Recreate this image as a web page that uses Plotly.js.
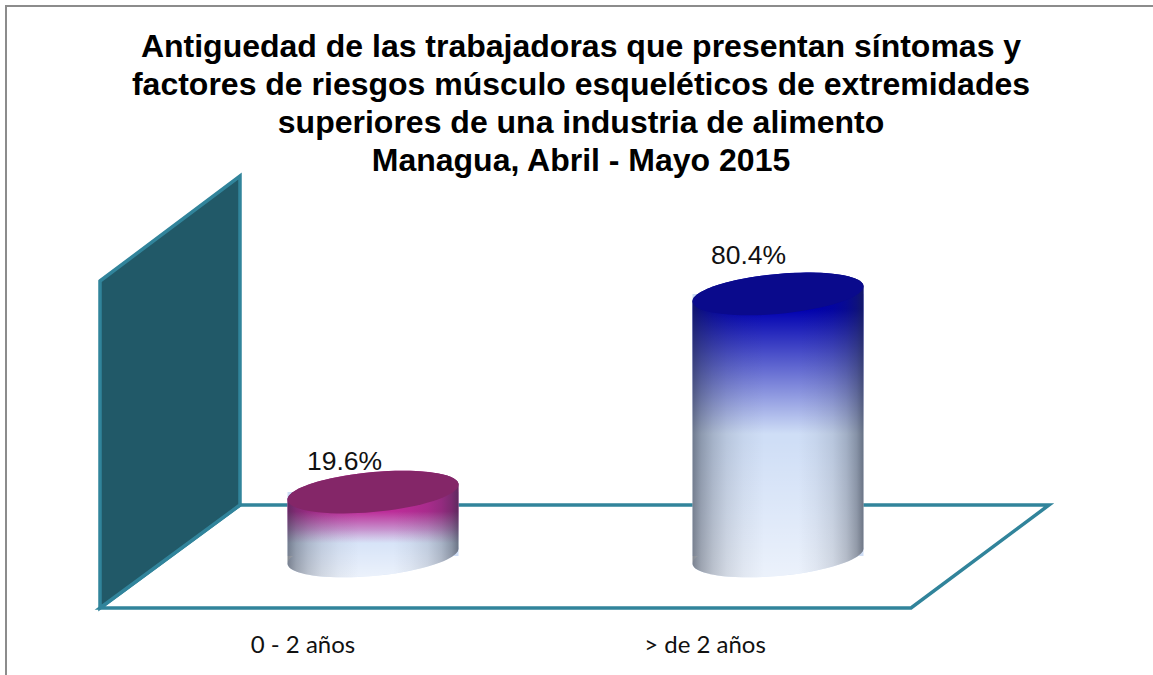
<!DOCTYPE html>
<html><head><meta charset="utf-8">
<script src="https://cdn.plot.ly/plotly-3.0.1.min.js"></script>
<style>html,body{margin:0;padding:0;background:#fff;overflow:hidden}#g{width:1153px;height:675px}</style>
</head><body><div id="g"></div>
<script>
const categories = ['0 - 2 años', '> de 2 años'];
const values = [19.6, 80.4];
const labels = ['19.6%', '80.4%'];
const topColors = ['#842668', '#0A0A8C'];
const shadeColors = ['#BC2C98', '#0000B0'];
const titleLines = [
  'Antiguedad de las trabajadoras que presentan síntomas y',
  'factores de riesgos músculo esqueléticos de extremidades',
  'superiores de una industria de alimento',
  'Managua, Abril - Mayo 2015'
];
const W = 1153, H = 675, plotBottom = 625;
const catPx = [303, 705], centerPx = [373, 778], zeroPx = 556, pxPerUnit = 3.26;
const cylW = 171, a = cylW / 2, b = 20, k = 7.5;
const xUnit = catPx[1] - catPx[0];
const xRange = [-catPx[0] / xUnit, (W - catPx[0]) / xUnit];
const yRange = [-(plotBottom - zeroPx) / pxPerUnit, zeroPx / pxPerUnit];
const X = p => (p - catPx[0]) / xUnit;
const Y = p => (zeroPx - p) / pxPerUnit;
const px = (x, y) => ({x: x / W, y: 1 - y / plotBottom});
const line = '#31849B';
function paperPoly(pts, fill, lw, closed) {
  const d = pts.map((p, i) => { const q = px(p[0], p[1]); return (i ? 'L' : 'M') + q.x + ',' + q.y; }).join(' ') + (closed ? ' Z' : '');
  return {type: 'path', xref: 'paper', yref: 'paper', path: d, fillcolor: fill, layer: 'below',
          line: {color: line, width: lw}};
}
function ellipsePts(cx, cyPx, from, to, n) {
  const out = [];
  for (let i = 0; i <= n; i++) {
    const t = from + (to - from) * i / n;
    out.push([cx + a * Math.cos(t), cyPx + b * Math.sin(t) - k * Math.cos(t)]);
  }
  return out;
}
function dataPath(pts, close) {
  return pts.map((p, i) => (i ? 'L' : 'M') + X(p[0]) + ',' + Y(p[1])).join(' ') + (close ? ' Z' : '');
}
const shapes = [];
// frame: only the top and left edges are visible
const frame = paperPoly([[6, 690], [6, 6], [1170, 6]], 'rgba(0,0,0,0)', 2, false);
frame.line = {color: '#8C8C8C', width: 2};
shapes.push(frame);
// floor and wall
shapes.push(paperPoly([[100, 608], [911, 608], [1049, 505], [240, 505]], '#ffffff', 3.5, true));
shapes.push(paperPoly([[100, 281], [240, 176], [240, 505], [100, 608]], '#215968', 3.5, true));
// cylinder bottoms
const noLine = {width: 0, color: 'rgba(0,0,0,0)'};
const base = '#CFDEF6';
centerPx.forEach(c => shapes.push({type: 'path', xref: 'x', yref: 'y', layer: 'below',
  path: dataPath(ellipsePts(c, zeroPx, 0, 2 * Math.PI, 72), true), fillcolor: base, line: noLine}));
const gradTargets = [];
values.forEach((v, i) => {
  const c = centerPx[i], topPx = zeroPx - v * pxPerUnit;
  const sil = [[c + a, topPx - k]].concat(ellipsePts(c, zeroPx, 0, Math.PI, 48)).concat([[c - a, topPx + k]])
    .concat(ellipsePts(c, topPx, Math.PI, 2 * Math.PI, 48));
  ['color' + i, 'white', 'edge'].forEach(g => {
    gradTargets.push([shapes.length, g]);
    shapes.push({type: 'path', xref: 'x', yref: 'y', layer: 'above', path: dataPath(sil, true),
      fillcolor: '#888888', line: noLine});
  });
  shapes.push({type: 'path', xref: 'x', yref: 'y', layer: 'above',
    path: dataPath(ellipsePts(c, topPx, 0, 2 * Math.PI, 72), true), fillcolor: topColors[i], line: noLine});
});
const labelOffsetPx = [-29, -30], labelYShift = [31, 39];
const annotations = values.map((v, i) => ({
  x: X(centerPx[i] + labelOffsetPx[i]), y: v, xref: 'x', yref: 'y', text: labels[i], showarrow: false,
  yshift: labelYShift[i], font: {family: '"Liberation Sans", Arial, sans-serif', size: 26.5, color: '#111'}
}));
const trace = {
  type: 'bar', x: [0, 1], y: values, width: cylW / xUnit,
  offset: centerPx.map((c, i) => (c - a - catPx[i]) / xUnit),
  marker: {color: base, line: {width: 0}}, hoverinfo: 'skip', showlegend: false
};
const layout = {
  width: W, height: H, margin: {l: 0, r: 0, t: 0, b: H - plotBottom, pad: 0},
  paper_bgcolor: '#fff', plot_bgcolor: 'rgba(0,0,0,0)', showlegend: false,
  title: {text: titleLines.join('<br>'), x: 0.5039, xanchor: 'center', xref: 'paper', y: 0.915, yanchor: 'top',
    font: {family: '"Liberation Sans", Arial, sans-serif', size: 32, color: '#000', weight: 700}},
  xaxis: {range: xRange, tickmode: 'array', tickvals: [0, 1], ticktext: categories, showgrid: false, zeroline: false,
    showline: false, ticks: '', ticklabelstandoff: 3, tickfont: {family: 'Lato, sans-serif', size: 24, color: '#111'}, automargin: false},
  yaxis: {range: yRange, visible: false, showgrid: false, zeroline: false},
  shapes, annotations
};
Plotly.newPlot('g', [trace], layout, {displayModeBar: false, staticPlot: true}).then(gd => {
  gd.querySelectorAll('.gtitle tspan.line').forEach((t, i) => { t.setAttribute('dy', (i * 38) + 'px'); });
  const svg = gd.querySelector('svg.main-svg');
  const NS = 'http://www.w3.org/2000/svg';
  const defs = document.createElementNS(NS, 'defs');
  const grad = (id, horiz, stops) => {
    const g = document.createElementNS(NS, 'linearGradient');
    g.setAttribute('id', id); g.setAttribute('x1', 0); g.setAttribute('y1', 0);
    g.setAttribute('x2', horiz ? 1 : 0); g.setAttribute('y2', horiz ? 0 : 1);
    stops.forEach(s => { const e = document.createElementNS(NS, 'stop');
      e.setAttribute('offset', s[0]); e.setAttribute('stop-color', s[1]); e.setAttribute('stop-opacity', s[2]); g.appendChild(e); });
    defs.appendChild(g);
  };
  grad('color0', false, [[0, shadeColors[0], 1], [0.38, shadeColors[0], 1], [0.68, shadeColors[0], 0]]);
  grad('color1', false, [[0, shadeColors[1], 1], [0.12, shadeColors[1], 1], [0.53, shadeColors[1], 0]]);
  grad('white', false, [[0.55, '#fff', 0], [1, '#fff', 0.6]]);
  grad('edge', true, [[0, '#202838', 0.55], [0.05, '#202838', 0.38], [0.12, '#202838', 0.24], [0.2, '#202838', 0.13], [0.3, '#202838', 0.05], [0.42, '#202838', 0],
    [0.62, '#202838', 0], [0.72, '#202838', 0.05], [0.82, '#202838', 0.13], [0.9, '#202838', 0.26], [0.96, '#202838', 0.42], [1, '#202838', 0.6]]);
  svg.insertBefore(defs, svg.firstChild);
  gradTargets.forEach(([idx, id]) => {
    gd.querySelectorAll('.shapelayer path[data-index="' + idx + '"]').forEach(p => { p.style.fill = 'url(#' + id + ')'; p.style.fillOpacity = 1; });
  });
});
</script></body></html>
